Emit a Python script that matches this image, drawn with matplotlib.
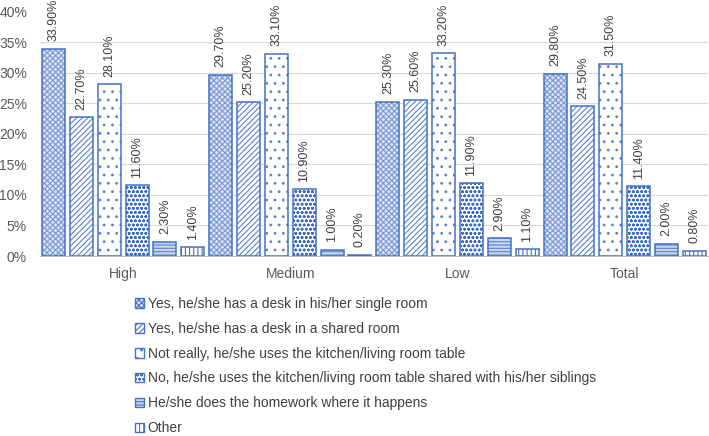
import matplotlib
matplotlib.use("Agg")
import matplotlib.pyplot as plt
import numpy as np

plt.rcParams['font.family'] = ['Liberation Sans', 'DejaVu Sans']
plt.rcParams['hatch.linewidth'] = 0.8

categories = ["High", "Medium", "Low", "Total"]
series_names = [
    "Yes, he/she has a desk in his/her single room",
    "Yes, he/she has a desk in a shared room",
    "Not really, he/she uses the kitchen/living room table",
    "No, he/she uses the kitchen/living room table shared with his/her siblings",
    "He/she does the homework where it happens",
    "Other",
]
values = [
    [33.9, 29.7, 25.3, 29.8],
    [22.7, 25.2, 25.6, 24.5],
    [28.1, 33.1, 33.2, 31.5],
    [11.6, 10.9, 11.9, 11.4],
    [2.3, 1.0, 2.9, 2.0],
    [1.4, 0.2, 1.1, 0.8],
]
yticks = [0, 5, 10, 15, 20, 25, 30, 35, 40]

blue = "#4472C4"
hatches = ["xxxxxx", "//////", "..", "oooo", "-----", "||||"]
faces = ["#dbe3f3", "white", "white", "white", "#c9d6ee", "white"]
hatch_cols = ["#7b98d4", "#5a82cb", "#5a82cb", "#3f6cc0", "#5a82cb", "#4472C4"]

fig = plt.figure(figsize=(7.09, 4.36), dpi=100)
ax = fig.add_axes([39.5 / 709, 1 - 256 / 436, (708.3 - 39.5) / 709, (256 - 11.8) / 436])

pitch = 1 / 6
bw = pitch * 23 / 27.87
x = np.arange(len(categories))
handles = []
for j, (name, vals) in enumerate(zip(series_names, values)):
    pos = x + (j - 2.5) * pitch
    ax.bar(pos, vals, width=bw, facecolor=faces[j], edgecolor=hatch_cols[j],
           hatch=hatches[j], linewidth=0, zorder=3)
    ax.bar(pos, vals, width=bw, facecolor="none", edgecolor=blue,
           linewidth=1.1, zorder=3.5)
    for p, v in zip(pos, vals):
        ax.annotate(f"{v:.2f}%", (p, v), xytext=(0, 5.5), textcoords="offset points",
                    rotation=90, ha="center", va="bottom", fontsize=9,
                    color="#404040", zorder=4, annotation_clip=False)
    h = plt.Rectangle((0, 0), 1, 1, facecolor=faces[j], edgecolor=blue,
                      hatch=hatches[j], linewidth=1.0)
    handles.append(h)

ax.set_xlim(-0.5, 3.5)
ax.set_ylim(0, 40)
ax.set_yticks(yticks)
ax.set_yticklabels([f"{t}%" for t in yticks])
ax.set_xticks(x)
ax.set_xticklabels(categories)
ax.tick_params(axis="both", length=0, labelsize=10, colors="#595959")
ax.tick_params(axis="x", pad=8)
ax.tick_params(axis="y", pad=9)
for t in yticks[1:-1]:
    ax.axhline(t, color="#d9d9d9", linewidth=0.8, zorder=0)
for s in ["top", "right", "left"]:
    ax.spines[s].set_visible(False)
ax.spines["bottom"].set_color("#bfbfbf")
ax.spines["bottom"].set_linewidth(0.8)

leg = fig.legend(handles, series_names, loc="upper left",
                 bbox_to_anchor=(129 / 709, 1 - 291 / 436),
                 frameon=False, fontsize=10, handlelength=0.7, handleheight=0.7,
                 handletextpad=0.25, labelspacing=0.79, borderaxespad=0)
for txt in leg.get_texts():
    txt.set_color("#404040")

fig.savefig("out.png", dpi=100)
